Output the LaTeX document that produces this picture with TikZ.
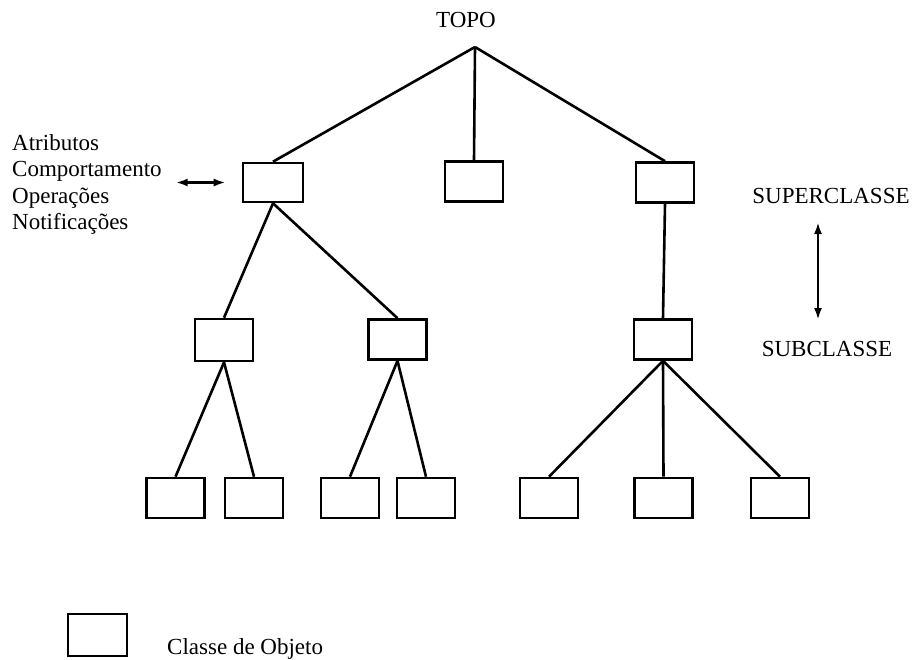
\documentclass[tikz,border=0pt]{standalone}
\usepackage{fontspec}
\setmainfont{Liberation Serif}
\usetikzlibrary{arrows.meta}
\begin{document}
\begin{tikzpicture}[x=1pt,y=-1pt,
  every node/.style={font=\fontsize{23}{26}\selectfont, inner sep=0pt},
  cls/.style={draw, line width=2.6pt, minimum width=58pt, minimum height=40pt},
  edge/.style={line width=2.6pt},
  dbl/.style={line width=2.6pt, {Latex[length=12pt,width=8pt]}-{Latex[length=12pt,width=8pt]}}]
\useasboundingbox (0,0) rectangle (913,659);

% root label and the point where the top edges meet
\node[anchor=base] (topo) at (466,27) {TOPO};
\coordinate (apex) at (475,47);

% first level
\node[cls, minimum width=60pt, minimum height=39pt] (a) at (273,182.5) {};
\node[cls] (b) at (474,181.5) {};
\node[cls] (c) at (665,182.5) {};

% second level
\node[cls, minimum height=42pt] (d) at (224,340) {};
\node[cls] (e) at (397.5,339.5) {};
\node[cls] (f) at (663,339.5) {};

% leaves
\foreach \n/\x in {l1/175.5, l2/254, l3/350, l4/426, l5/549, l6/663.5, l7/780}
  \node[cls] (\n) at (\x,498) {};

% hierarchy edges
\draw[edge] (apex) -- (a.north);
\draw[edge] (apex) -- (b.north);
\draw[edge] (apex) -- (c.north);
\draw[edge] (a.south) -- (d.north);
\draw[edge] (a.south) -- (e.north);
\draw[edge] (c.south) -- (f.north);
\draw[edge] (d.south) -- (l1.north);
\draw[edge] (d.south) -- (l2.north);
\draw[edge] (e.south) -- (l3.north);
\draw[edge] (e.south) -- (l4.north);
\draw[edge] (f.south) -- (l5.north);
\draw[edge] (f.south) -- (l6.north);
\draw[edge] (f.south) -- (l7.north);

% class contents
\node[anchor=base west] (atr) at (12,150) {Atributos};
\node[anchor=base west] (comp) at (12,176.5) {Comportamento};
\node[anchor=base west] (oper) at (12,203) {Operações};
\node[anchor=base west] (noti) at (12,229.5) {Notificações};
\draw[dbl] ([xshift=-66pt]a.west) -- ([xshift=-16pt]a.west);

% superclass / subclass relation
\node[anchor=base] (super) at (831,203) {SUPERCLASSE};
\node[anchor=base] (sub) at (827,356) {SUBCLASSE};
\coordinate (up) at (818,222);
\coordinate (down) at (818,320);
\draw[dbl] (up) -- (down);

% legend
\node[cls, minimum width=59pt, minimum height=42pt] (key) at (97.5,635) {};
\node[anchor=base west] (keytext) at (167,654) {Classe de Objeto};
\end{tikzpicture}
\end{document}
